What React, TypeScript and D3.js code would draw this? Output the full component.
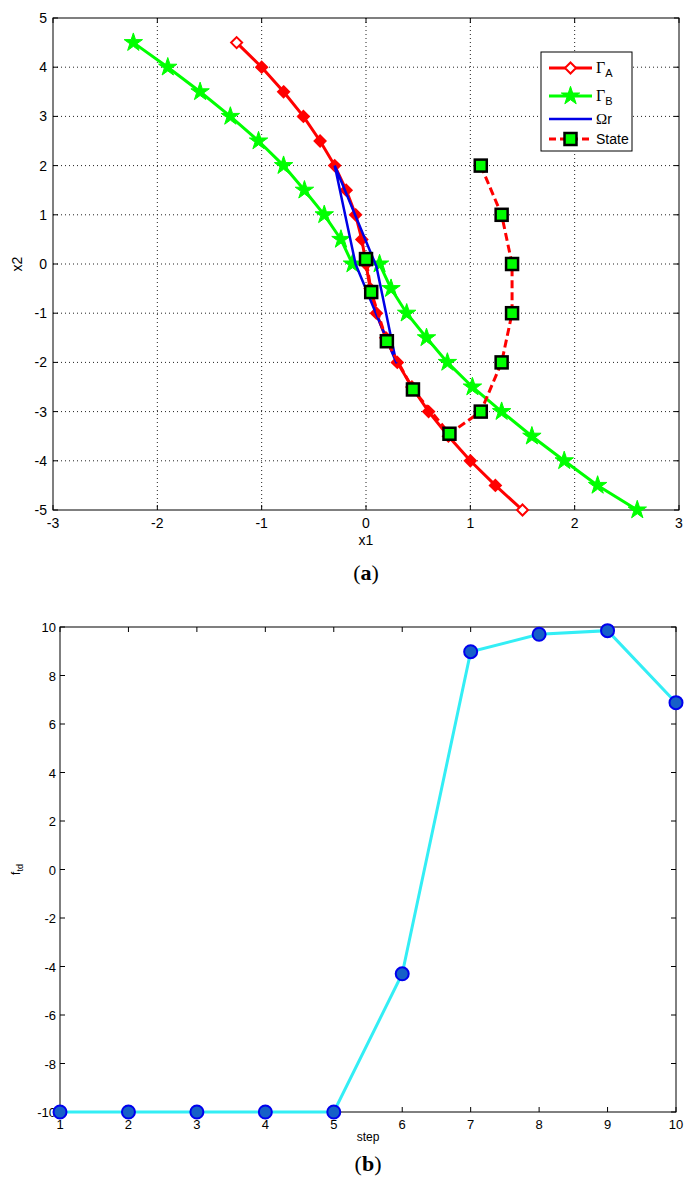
import React from "react";
import * as d3 from "d3";

// ---- Data (top chart) ----
const gammaAY = [4.5, 4, 3.5, 3, 2.5, 2, 1.5, 1, 0.5, 0, -0.5, -1, -1.5, -2, -2.5, -3, -3.5, -4, -4.5, -5];
const gammaAX = [-1.24, -1.0, -0.79, -0.6, -0.44, -0.3, -0.19, -0.1, -0.04, 0, 0.04, 0.1, 0.19, 0.3, 0.44, 0.6, 0.79, 1.0, 1.24, 1.5];

const gammaBY = [4.5, 4, 3.5, 3, 2.5, 2, 1.5, 1, 0.5, 0, 0, -0.5, -1, -1.5, -2, -2.5, -3, -3.5, -4, -4.5, -5];
const gammaBX = [-2.23, -1.9, -1.59, -1.3, -1.03, -0.79, -0.59, -0.4, -0.24, -0.13, 0.13, 0.24, 0.39, 0.58, 0.78, 1.02, 1.3, 1.59, 1.9, 2.22, 2.6];

const omegaX = [-0.3, 0.1, 0.29, -0.1, -0.3];
const omegaY = [2.0, -0.05, -2.0, 0.0, 2.0];

const stateX = [1.1, 1.3, 1.4, 1.4, 1.3, 1.1, 0.8, 0.45, 0.2, 0.05, 0.0];
const stateY = [2.0, 1.0, 0.0, -1.0, -2.0, -3.0, -3.45, -2.55, -1.57, -0.57, 0.1];

const topXTicks = [-3, -2, -1, 0, 1, 2, 3];
const topYTicks = [-5, -4, -3, -2, -1, 0, 1, 2, 3, 4, 5];

// ---- Data (bottom chart) ----
const steps = [1, 2, 3, 4, 5, 6, 7, 8, 9, 10];
const ftd = [-10, -10, -10, -10, -10, -4.3, 8.98, 9.7, 9.85, 6.88];
const botYTicks = [-10, -8, -6, -4, -2, 0, 2, 4, 6, 8, 10];

const SANS = "'Liberation Sans', Arial, Helvetica, sans-serif";
const SERIF = "'Liberation Serif', 'Times New Roman', serif";

const RED = "#ff0000";
const GREEN = "#00ff00";
const BLUE = "#0000e6";

function diamond(r: number) {
  return `M0,${-r}L${r},0L0,${r}L${-r},0Z`;
}

export default function App() {
  // top chart geometry
  const tL = 53, tR = 679, tT = 18, tB = 510;
  const x1 = d3.scaleLinear().domain([-3, 3]).range([tL, tR]);
  const y1 = d3.scaleLinear().domain([-5, 5]).range([tB, tT]);

  // bottom chart geometry
  const bL = 60, bR = 676, bT = 627, bB = 1112;
  const x2 = d3.scaleLinear().domain([1, 10]).range([bL, bR]);
  const y2 = d3.scaleLinear().domain([-10, 10]).range([bB, bT]);

  const line1 = d3.line<[number, number]>().x((d) => x1(d[0])).y((d) => y1(d[1]));
  const line2 = d3.line<[number, number]>().x((d) => x2(d[0])).y((d) => y2(d[1]));

  const aPts: [number, number][] = gammaAX.map((x, i) => [x, gammaAY[i]]);
  const bPts: [number, number][] = gammaBX.map((x, i) => [x, gammaBY[i]]);
  const oPts: [number, number][] = omegaX.map((x, i) => [x, omegaY[i]]);
  const sPts: [number, number][] = stateX.map((x, i) => [x, stateY[i]]);
  const fPts: [number, number][] = steps.map((s, i) => [s, ftd[i]]);

  const star = d3.symbol().type(d3.symbolStar).size(105)();
  const tickLen = 5;

  // legend
  const lgX = 541, lgY = 52, lgW = 91, lgH = 99;
  const lgL1 = 549, lgL2 = 592, lgT = 596;
  const rowA = 68, rowB = 96, rowO = 119, rowS = 139;

  return (
    <svg width={690} height={1195} style={{ position: "absolute", left: 0, top: 0, background: "#fff" }}>
      <rect x={0} y={0} width={690} height={1195} fill="#fff" />
      {/* ===== TOP CHART ===== */}
      <g>
        {/* grid */}
        {topXTicks.slice(1, -1).map((t) => (
          <line key={"gx" + t} x1={x1(t)} x2={x1(t)} y1={tT} y2={tB} stroke="#222" strokeWidth={1} strokeDasharray="1,3" />
        ))}
        {topYTicks.slice(1, -1).map((t) => (
          <line key={"gy" + t} x1={tL} x2={tR} y1={y1(t)} y2={y1(t)} stroke="#222" strokeWidth={1} strokeDasharray="1,3" />
        ))}
        {/* ticks */}
        {topXTicks.map((t) => (
          <g key={"tx" + t}>
            <line x1={x1(t)} x2={x1(t)} y1={tB} y2={tB - tickLen} stroke="#000" />
            <line x1={x1(t)} x2={x1(t)} y1={tT} y2={tT + tickLen} stroke="#000" />
            <text x={x1(t)} y={tB + 18} fontSize={14} fontFamily={SANS} textAnchor="middle">{t}</text>
          </g>
        ))}
        {topYTicks.map((t) => (
          <g key={"ty" + t}>
            <line x1={tL} x2={tL + tickLen} y1={y1(t)} y2={y1(t)} stroke="#000" />
            <line x1={tR} x2={tR - tickLen} y1={y1(t)} y2={y1(t)} stroke="#000" />
            <text x={tL - 6} y={y1(t) + 5} fontSize={14} fontFamily={SANS} textAnchor="end">{t}</text>
          </g>
        ))}
        <rect x={tL} y={tT} width={tR - tL} height={tB - tT} fill="none" stroke="#000" strokeWidth={1} />

        {/* Gamma B */}
        <path d={line1(bPts) || ""} fill="none" stroke={GREEN} strokeWidth={3} />
        {bPts.map((p, i) => (
          <path key={"bs" + i} d={star} transform={`translate(${x1(p[0])},${y1(p[1])})`} fill={GREEN} stroke={GREEN} strokeWidth={1} />
        ))}
        {/* Gamma A */}
        <path d={line1(aPts) || ""} fill="none" stroke={RED} strokeWidth={3} />
        {aPts.map((p, i) => (
          <path key={"ad" + i} d={diamond(5.5)} transform={`translate(${x1(p[0])},${y1(p[1])})`}
            fill={i === 0 || i === aPts.length - 1 ? "#fff" : RED} stroke={RED} strokeWidth={2} />
        ))}
        {/* Omega r */}
        <path d={line1(oPts) || ""} fill="none" stroke={BLUE} strokeWidth={2.5} strokeLinejoin="round" />
        {/* State */}
        <path d={line1(sPts) || ""} fill="none" stroke={RED} strokeWidth={3} strokeDasharray="8,4" />
        {sPts.map((p, i) => (
          <rect key={"ss" + i} x={x1(p[0]) - 6} y={y1(p[1]) - 6} width={12} height={12} fill={GREEN} stroke="#000" strokeWidth={2.5} />
        ))}

        {/* legend */}
        <rect x={lgX} y={lgY} width={lgW} height={lgH} fill="#fff" stroke="#000" strokeWidth={1} />
        <line x1={lgL1} x2={lgL2} y1={rowA} y2={rowA} stroke={RED} strokeWidth={3} />
        <path d={diamond(5.5)} transform={`translate(${(lgL1 + lgL2) / 2},${rowA})`} fill="#fff" stroke={RED} strokeWidth={2} />
        <text x={lgT} y={rowA + 5} fontSize={16} fontFamily={SERIF}>Γ<tspan fontFamily={SANS} fontSize={11} dy={4}>A</tspan></text>

        <line x1={lgL1} x2={lgL2} y1={rowB} y2={rowB} stroke={GREEN} strokeWidth={3} />
        <path d={star} transform={`translate(${(lgL1 + lgL2) / 2},${rowB})`} fill={GREEN} stroke={GREEN} />
        <text x={lgT} y={rowB + 5} fontSize={16} fontFamily={SERIF}>Γ<tspan fontFamily={SANS} fontSize={11} dy={4}>B</tspan></text>

        <line x1={lgL1} x2={lgL2} y1={rowO} y2={rowO} stroke={BLUE} strokeWidth={2.5} />
        <text x={lgT} y={rowO + 5} fontSize={15} fontFamily={SERIF}>Ω<tspan fontFamily={SANS} fontSize={14}>r</tspan></text>

        <line x1={lgL1} x2={lgL2} y1={rowS} y2={rowS} stroke={RED} strokeWidth={3} strokeDasharray="7,4" />
        <rect x={(lgL1 + lgL2) / 2 - 6} y={rowS - 6} width={12} height={12} fill={GREEN} stroke="#000" strokeWidth={2.5} />
        <text x={lgT} y={rowS + 5} fontSize={14} fontFamily={SANS}>State</text>

        {/* axis labels */}
        <text x={(tL + tR) / 2} y={545} fontSize={14} fontFamily={SANS} textAnchor="middle">x1</text>
        <text transform={`translate(22,${(tT + tB) / 2}) rotate(-90)`} fontSize={14} fontFamily={SANS} textAnchor="middle">x2</text>
        <text x={(tL + tR) / 2} y={580} fontSize={22} fontFamily={SERIF} textAnchor="middle">(<tspan fontWeight="bold">a</tspan>)</text>
      </g>

      {/* ===== BOTTOM CHART ===== */}
      <g>
        {steps.map((t) => (
          <g key={"bx" + t}>
            <line x1={x2(t)} x2={x2(t)} y1={bB} y2={bB - tickLen} stroke="#000" />
            <line x1={x2(t)} x2={x2(t)} y1={bT} y2={bT + tickLen} stroke="#000" />
            <text x={x2(t)} y={bB + 17} fontSize={13} fontFamily={SANS} textAnchor="middle">{t}</text>
          </g>
        ))}
        {botYTicks.map((t) => (
          <g key={"by" + t}>
            <line x1={bL} x2={bL + tickLen} y1={y2(t)} y2={y2(t)} stroke="#000" />
            <line x1={bR} x2={bR - tickLen} y1={y2(t)} y2={y2(t)} stroke="#000" />
            <text x={bL - 4} y={y2(t) + 5} fontSize={13} fontFamily={SANS} textAnchor="end">{t}</text>
          </g>
        ))}
        <rect x={bL} y={bT} width={bR - bL} height={bB - bT} fill="none" stroke="#000" strokeWidth={1} />

        <path d={line2(fPts) || ""} fill="none" stroke="#33eef5" strokeWidth={3} />
        {fPts.map((p, i) => (
          <circle key={"fc" + i} cx={x2(p[0])} cy={y2(p[1])} r={6.5} fill="#1660c8" stroke="#0000ee" strokeWidth={2} />
        ))}

        <text x={(bL + bR) / 2} y={1141} fontSize={12} fontFamily={SANS} textAnchor="middle">step</text>
        <text transform={`translate(20,${(bT + bB) / 2}) rotate(-90)`} fontSize={12} fontFamily={SANS} textAnchor="middle">f<tspan fontSize={9} dy={3}>td</tspan></text>
        <text x={(bL + bR) / 2} y={1171} fontSize={22} fontFamily={SERIF} textAnchor="middle">(<tspan fontWeight="bold">b</tspan>)</text>
      </g>
    </svg>
  );
}
